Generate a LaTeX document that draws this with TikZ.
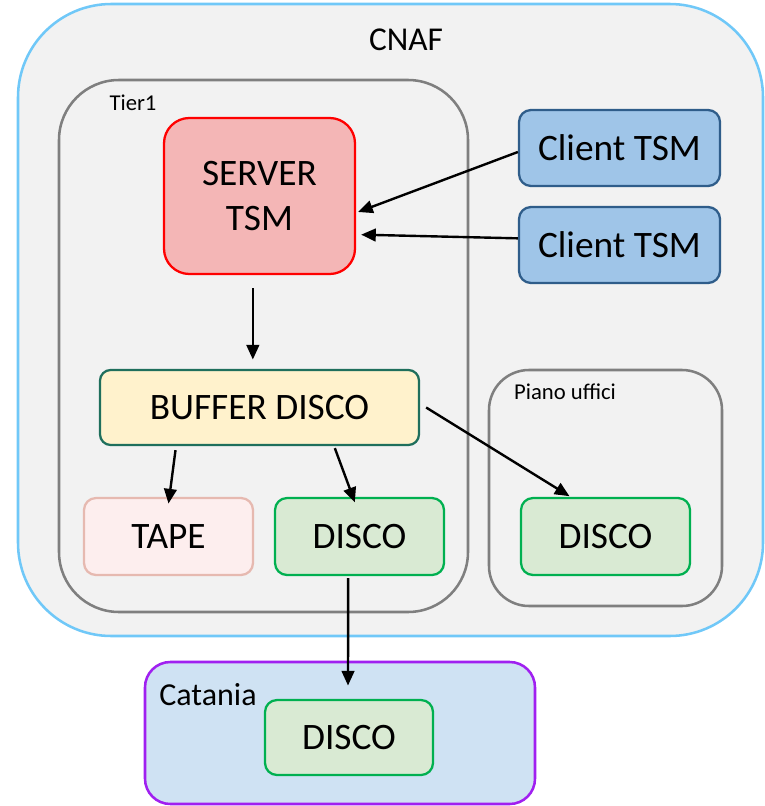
\documentclass[tikz,border=0pt]{standalone}
\usepackage{fontspec}
\setmainfont{Carlito}
\usetikzlibrary{arrows.meta,positioning}
\definecolor{cnafline}{HTML}{70C8F8}
\definecolor{cnaffill}{HTML}{F2F2F2}
\definecolor{tiergray}{HTML}{7F7F7F}
\definecolor{srvline}{HTML}{FF0000}
\definecolor{srvfill}{HTML}{F4B6B6}
\definecolor{cliline}{HTML}{2F5D8A}
\definecolor{clifill}{HTML}{9FC5E8}
\definecolor{bufline}{HTML}{1F6F5C}
\definecolor{buffill}{HTML}{FFF2CC}
\definecolor{tapeline}{HTML}{E6B9B0}
\definecolor{tapefill}{HTML}{FDEEEE}
\definecolor{discoline}{HTML}{00B050}
\definecolor{discofill}{HTML}{D9EAD3}
\definecolor{ctline}{HTML}{A020F0}
\definecolor{ctfill}{HTML}{CFE2F3}
\newcommand{\bigtxt}{\fontsize{28}{34}\selectfont}

\begin{document}
\begin{tikzpicture}[
  x=0.75pt,y=-0.75pt,
  area/.style={draw,line width=1.9pt,inner sep=0pt},
  box/.style={draw,line width=1.7pt,inner sep=0pt,align=center,font=\bigtxt},
  disco/.style={box,draw=discoline,fill=discofill,rounded corners=9pt,minimum width=126.75pt,minimum height=57.75pt},
  lbl/.style={inner sep=0pt,font=\fontsize{17}{20}\selectfont},
  arr/.style={-{Triangle[length=11pt,width=9.5pt]},line width=1.8pt,draw=black}
]
\useasboundingbox (0,0) rectangle (764,806);
% containers
\node[area,draw=cnafline,fill=cnaffill,rounded corners=70pt,minimum width=558.75pt,minimum height=474pt] (cnaf) at (390.5,320) {};
\node[inner sep=0pt,font=\fontsize{25}{30}\selectfont] (cnaflbl) at (406,40) {CNAF};
\node[area,draw=tiergray,rounded corners=45pt,minimum width=306.75pt,minimum height=399pt] (tier) at (263.5,346) {};
\node[lbl] (tierlbl) at (133,103) {Tier1};
\node[area,draw=tiergray,rounded corners=30pt,minimum width=174.75pt,minimum height=177pt] (piano) at (605.5,488) {};
\node[lbl] (pianolbl) at (565,392) {Piano uffici};
\node[area,draw=ctline,fill=ctfill,rounded corners=19pt,minimum width=292.5pt,minimum height=106.5pt] (catania) at (340,733) {};
\node[inner sep=0pt,font=\fontsize{24}{28}\selectfont] (ctlbl) at (208,695) {Catania};
% boxes
\node[box,draw=srvline,fill=srvfill,rounded corners=19pt,minimum width=143.25pt,minimum height=117pt] (server) at (259.5,196) {SERVER\\TSM};
\node[box,draw=cliline,fill=clifill,rounded corners=9pt,minimum width=150.75pt,minimum height=57pt] (client1) at (619.5,148) {Client TSM};
\node[box,draw=cliline,fill=clifill,rounded corners=9pt,minimum width=150.75pt,minimum height=57pt] (client2) at (619.5,245) {Client TSM};
\node[box,draw=bufline,fill=buffill,rounded corners=8pt,minimum width=239.25pt,minimum height=56.25pt] (buffer) at (259.5,407.5) {BUFFER DISCO};
\node[box,draw=tapeline,fill=tapefill,rounded corners=9pt,minimum width=126.75pt,minimum height=57.75pt] (tape) at (168.5,536.5) {TAPE};
\node[disco] (disco1) at (359.5,536.5) {DISCO};
\node[disco] (disco2) at (605.5,536.5) {DISCO};
\node[disco,minimum width=126pt,minimum height=56.25pt] (disco3) at (349,737.5) {DISCO};
% links
\draw[arr] ([yshift=-3pt]client1.west) -- ([xshift=1.5pt,yshift=-12pt]server.east);
\draw[arr] ([yshift=5pt]client2.west) -- ([xshift=3.75pt,yshift=-29pt]server.east);
\draw[arr] ([xshift=-5pt,yshift=-10pt]server.south) -- ([xshift=-5pt,yshift=7pt]buffer.north);
\draw[arr] ([xshift=-63pt,yshift=-3pt]buffer.south) -- ([yshift=-5pt]tape.north);
\draw[arr] ([xshift=56.5pt,yshift=-1.5pt]buffer.south) -- ([xshift=-3.5pt,yshift=-4pt]disco1.north);
\draw[arr] ([xshift=4.5pt]buffer.east) -- ([xshift=-27pt,yshift=0.5pt]disco2.north);
\draw[arr] ([xshift=-8.5pt,yshift=-1.5pt]disco1.south) -- ([xshift=-0.75pt,yshift=10pt]disco3.north);
\end{tikzpicture}
\end{document}
